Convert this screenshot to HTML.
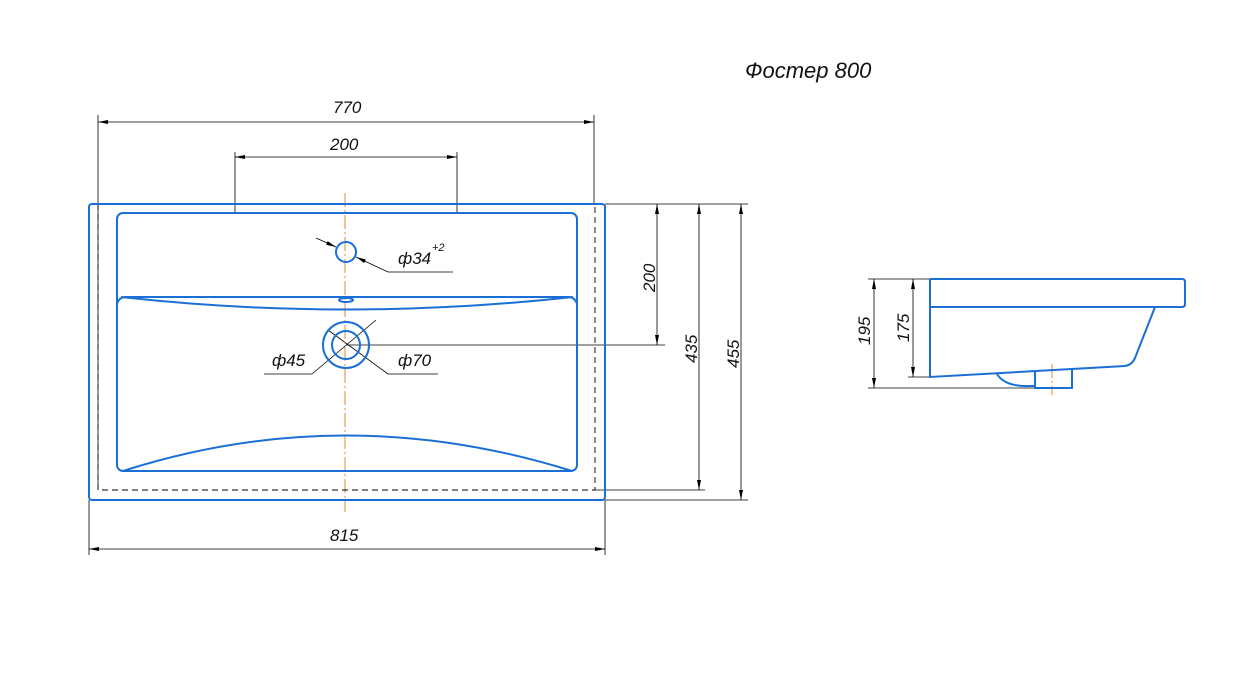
<!DOCTYPE html>
<html><head><meta charset="utf-8"><style>
html,body{margin:0;padding:0;background:#fff;width:1240px;height:690px;overflow:hidden}
text{font-family:"Liberation Sans",sans-serif;font-style:italic;fill:#111}
</style></head><body>
<svg width="1240" height="690" viewBox="0 0 1240 690" xmlns="http://www.w3.org/2000/svg">
<defs>
<marker id="a" viewBox="0 0 10 4" refX="10" refY="2" markerWidth="10" markerHeight="4" orient="auto-start-reverse" markerUnits="userSpaceOnUse"><path d="M0,0 L10,2 L0,4z" fill="#000"/></marker>
</defs>
<text x="745" y="78" font-size="22">Фостер 800</text>
<g stroke="#000" stroke-width="0.8" fill="none">
<!-- top dims -->
<line x1="98" y1="115" x2="98" y2="490"/><line x1="594" y1="115" x2="594" y2="204"/>
<line x1="98" y1="122" x2="594" y2="122" marker-start="url(#a)" marker-end="url(#a)"/>
<line x1="235" y1="152" x2="235" y2="213"/><line x1="457" y1="152" x2="457" y2="213"/>
<line x1="235" y1="157" x2="457" y2="157" marker-start="url(#a)" marker-end="url(#a)"/>
<!-- bottom -->
<line x1="89" y1="500" x2="89" y2="555"/><line x1="605" y1="500" x2="605" y2="555"/>
<line x1="89" y1="549" x2="605" y2="549" marker-start="url(#a)" marker-end="url(#a)"/>
<!-- right -->
<line x1="605" y1="204" x2="748" y2="204"/><line x1="595" y1="490" x2="705" y2="490"/>
<line x1="605" y1="500" x2="748" y2="500"/><line x1="346" y1="345" x2="665" y2="345"/>
<line x1="657" y1="204" x2="657" y2="345" marker-start="url(#a)" marker-end="url(#a)"/>
<line x1="699" y1="204" x2="699" y2="490" marker-start="url(#a)" marker-end="url(#a)"/>
<line x1="741" y1="204" x2="741" y2="500" marker-start="url(#a)" marker-end="url(#a)"/>
<!-- leaders -->
<line x1="316" y1="238" x2="336" y2="247" marker-end="url(#a)"/>
<line x1="356" y1="257" x2="388" y2="272" marker-start="url(#a)"/>
<line x1="388" y1="272" x2="453" y2="272"/>
<line x1="264" y1="374" x2="312" y2="374"/><line x1="312" y1="374" x2="376" y2="320"/>
<line x1="388" y1="374" x2="438" y2="374"/><line x1="388" y1="374" x2="328" y2="330"/>
<!-- side dims -->
<line x1="868" y1="279" x2="930" y2="279"/><line x1="908" y1="377" x2="930" y2="377"/>
<line x1="868" y1="388" x2="1035" y2="388"/>
<line x1="874" y1="279" x2="874" y2="388" marker-start="url(#a)" marker-end="url(#a)"/>
<line x1="913" y1="279" x2="913" y2="377" marker-start="url(#a)" marker-end="url(#a)"/>
</g>
<g font-size="17">
<text x="333" y="113">770</text><text x="330" y="150">200</text><text x="330" y="541">815</text>
<text x="398" y="264">ф34</text><text x="432" y="251" font-size="11">+2</text>
<text x="272" y="366">ф45</text><text x="398" y="366">ф70</text>
<text transform="translate(655,292) rotate(-90)">200</text>
<text transform="translate(697,363) rotate(-90)">435</text>
<text transform="translate(739,368) rotate(-90)">455</text>
<text transform="translate(870,345) rotate(-90)">195</text>
<text transform="translate(909,342) rotate(-90)">175</text>
</g>
<!-- main view -->
<g stroke="#e08a2c" stroke-width="1" stroke-dasharray="14,3,2,3"><line x1="345" y1="193" x2="345" y2="512"/><line x1="1052" y1="364" x2="1052" y2="395"/></g>
<path d="M98,204 V490 H595 V204" stroke="#000" stroke-width="0.9" fill="none" stroke-dasharray="6,4"/>
<g stroke="#1a6fd6" stroke-width="2" fill="none">
<rect x="89" y="204" width="516" height="296" rx="3"/>
<rect x="117" y="213" width="460" height="258" rx="6"/>
<path d="M117,304 Q119,297 126,297 L568,297 Q575,297 577,304"/>
<path d="M121,297 Q345,322 573,297"/>
<path d="M123,471 Q345,400 572,471"/>
<circle cx="346" cy="252" r="10"/>
<circle cx="346" cy="345" r="23"/><circle cx="346" cy="345" r="14"/>
<ellipse cx="346" cy="300" rx="7" ry="2"/>
<!-- side -->
<path d="M930,279 H1182 Q1185,279 1185,282 V304 Q1185,307 1182,307 H930"/>
<path d="M930,279 V377 L1125,366 Q1132,365 1135,358 L1155,307"/>
<path d="M997,374 Q1005,387 1030,386 L1035,386"/>
<path d="M1035,371 V388 H1072 V369"/>
</g>
</svg>
</body></html>
